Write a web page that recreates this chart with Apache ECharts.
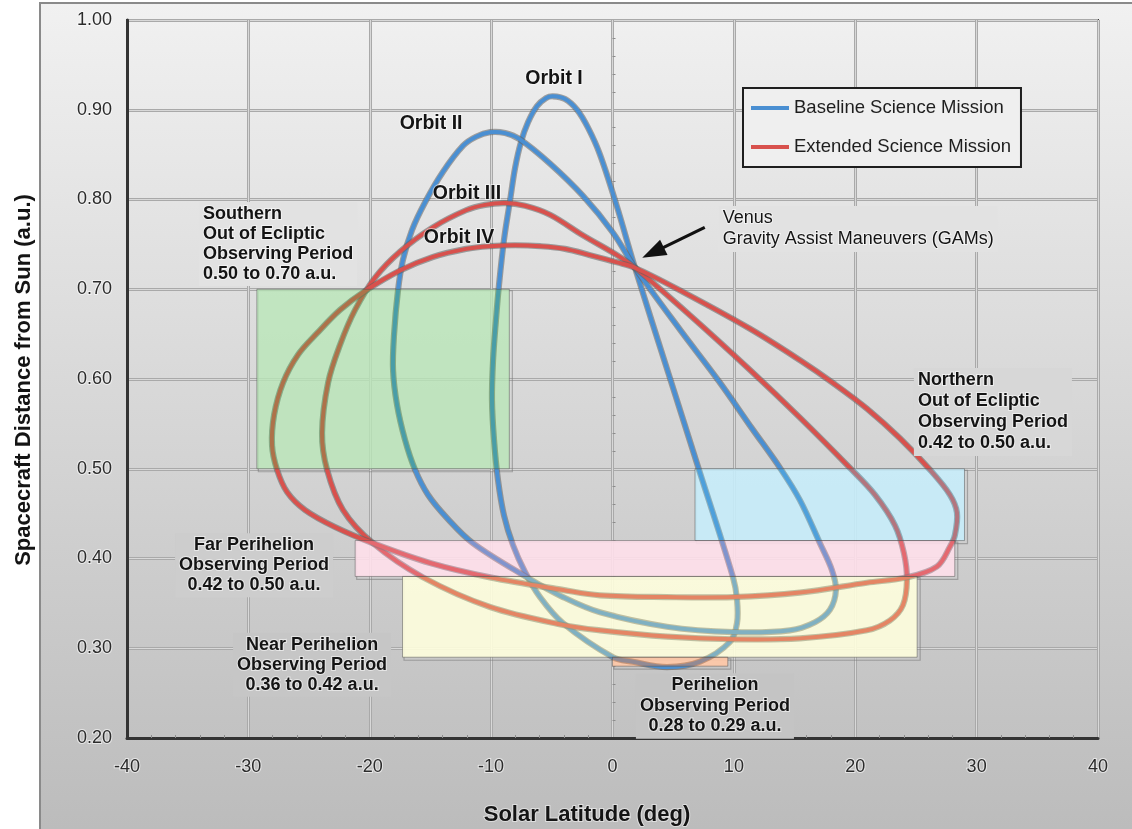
<!DOCTYPE html>
<html>
<head>
<meta charset="utf-8">
<script src="https://cdn.jsdelivr.net/npm/echarts@6/dist/echarts.min.js"></script>
<style>
  html, body { margin: 0; padding: 0; background: #ffffff; }
  #chart { width: 1132px; height: 829px; }
</style>
</head>
<body>
<div id="chart"></div>
<script>
// ---- axis ticks ----
const xTicks = [-40, -30, -20, -10, 0, 10, 20, 30, 40];
const yTicks = [0.20, 0.30, 0.40, 0.50, 0.60, 0.70, 0.80, 0.90, 1.00];

// ---- mission series ----
const missionNames = ['Baseline Science Mission', 'Extended Science Mission'];

// ---- orbit loops: [solar latitude (deg), distance from Sun (a.u.)], clockwise from the top ----
const orbitI = [
  [-4.90, 0.915], [-3.91, 0.912], [-2.92, 0.900], [-2.02, 0.880], [-1.03, 0.850],
  [0.37, 0.792], [1.85, 0.724], [4.57, 0.608], [6.96, 0.506], [9.93, 0.379],
  [10.26, 0.354], [10.26, 0.328], [9.68, 0.307], [7.21, 0.285], [4.49, 0.279],
  [1.69, 0.285], [0.04, 0.290], [-4.08, 0.328], [-5.97, 0.357], [-7.21, 0.385],
  [-8.20, 0.415], [-8.94, 0.448], [-9.43, 0.487], [-9.76, 0.532], [-9.93, 0.577],
  [-9.84, 0.621], [-9.60, 0.666], [-9.35, 0.705], [-8.94, 0.755], [-8.44, 0.799],
  [-8.03, 0.835], [-7.54, 0.864], [-6.96, 0.886], [-6.22, 0.904], [-5.48, 0.913]
];
const orbitII = [
  [-10.09, 0.875], [-8.85, 0.874], [-7.62, 0.867], [-5.15, 0.840], [-2.43, 0.804],
  [0.04, 0.763], [1.85, 0.724], [5.56, 0.655], [8.85, 0.596], [11.49, 0.545],
  [13.80, 0.501], [15.44, 0.465], [17.09, 0.417], [18.08, 0.387], [18.41, 0.365],
  [17.92, 0.343], [16.68, 0.329], [14.62, 0.320], [9.93, 0.318], [4.49, 0.324],
  [-1.03, 0.340], [-4.08, 0.357], [-7.04, 0.379], [-11.49, 0.417], [-13.63, 0.445],
  [-15.20, 0.471], [-16.27, 0.499], [-17.09, 0.532], [-17.75, 0.571], [-18.08, 0.610],
  [-18.00, 0.649], [-17.67, 0.699], [-17.26, 0.733], [-16.52, 0.766], [-15.44, 0.797],
  [-13.96, 0.831], [-12.31, 0.860], [-11.24, 0.870]
];
const orbitIII = [
  [-8.85, 0.796], [-7.21, 0.793], [-5.15, 0.783], [-2.43, 0.760], [0.37, 0.738],
  [1.85, 0.724], [6.38, 0.671], [11.33, 0.610], [15.44, 0.557], [19.56, 0.501],
  [21.62, 0.471], [23.27, 0.437], [24.01, 0.406], [24.26, 0.376], [23.93, 0.348],
  [22.86, 0.331], [20.96, 0.320], [15.44, 0.311], [9.93, 0.310], [4.49, 0.313],
  [-1.03, 0.320], [-4.08, 0.326], [-10.09, 0.346], [-15.61, 0.379], [-19.73, 0.417],
  [-22.20, 0.454], [-23.52, 0.499], [-23.93, 0.540], [-23.43, 0.596], [-22.45, 0.638],
  [-21.21, 0.677], [-19.56, 0.713], [-17.50, 0.742], [-14.79, 0.769], [-12.07, 0.788],
  [-10.50, 0.794]
];
const orbitIV = [
  [-10.09, 0.748], [-8.03, 0.749], [-5.97, 0.748], [-3.91, 0.745], [-1.85, 0.738],
  [0.37, 0.730], [1.85, 0.724], [5.81, 0.697], [11.33, 0.656], [15.44, 0.621],
  [18.33, 0.594], [20.96, 0.567], [23.68, 0.534], [26.15, 0.499], [27.80, 0.471],
  [28.38, 0.451], [28.21, 0.426], [27.80, 0.413], [26.73, 0.391], [24.26, 0.379],
  [20.96, 0.373], [15.44, 0.362], [9.93, 0.357], [4.49, 0.357], [-1.03, 0.359],
  [-4.08, 0.365], [-10.09, 0.379], [-15.03, 0.395], [-19.73, 0.417], [-22.86, 0.435],
  [-25.33, 0.454], [-26.81, 0.474], [-27.64, 0.499], [-28.05, 0.526], [-27.88, 0.560],
  [-27.14, 0.596], [-25.91, 0.627], [-24.34, 0.651], [-22.45, 0.677], [-20.39, 0.698],
  [-17.50, 0.721], [-14.79, 0.736], [-12.07, 0.745]
];
const baselineOrbits = [orbitI, orbitII];
const extendedOrbits = [orbitIII, orbitIV];

// ---- observing periods: latitude span and distance span ----
const periodNames = ['Southern', 'Northern', 'Far Perihelion', 'Near Perihelion', 'Perihelion'];
const periodLat = [[-29.3, -8.5], [6.8, 29.0], [-21.2, 28.2], [-17.3, 25.1], [0.0, 9.5]];
const periodDist = [[0.50, 0.70], [0.42, 0.50], [0.38, 0.42], [0.29, 0.38], [0.28, 0.29]];

// ---- Venus gravity assist pointer ----
const gamArrowTail = [7.6, 0.769];
const gamArrowTip = [2.45, 0.735];

// ---- styling ----
const FONT = '"Liberation Sans", Arial, Helvetica, sans-serif';
const BLUE = '#4a8fd2';
const RED = '#d8514d';
const HALO = 'rgba(95,95,95,0.55)';
// white underlay opacity and translucent tint laid over the orbit tracks
const periodUnder = [0.7, 0.85, 0.85, 0.85, 0.85];
const periodTint = [
  'rgba(72,192,69,0.3)',
  'rgba(88,202,242,0.3)',
  'rgba(255,162,196,0.3)',
  'rgba(255,255,157,0.3)',
  'rgba(255,130,55,0.4)'
];

// annotation text anchored in data space
const notes = [
  { text: 'Orbit I', at: [-4.82, 0.935], kind: 'orbit' },
  { text: 'Orbit II', at: [-14.95, 0.885], kind: 'orbit' },
  { text: 'Orbit III', at: [-11.99, 0.807], kind: 'orbit' },
  { text: 'Orbit IV', at: [-12.64, 0.757], kind: 'orbit' },
  { text: 'Southern\nOut of Ecliptic\nObserving Period\n0.50 to 0.70 a.u.', at: [-33.73, 0.795], kind: 'left', lh: 20 },
  { text: 'Northern\nOut of Ecliptic\nObserving Period\n0.42 to 0.50 a.u.', at: [25.16, 0.610], kind: 'left', lh: 21 },
  { text: 'Far Perihelion\nObserving Period\n0.42 to 0.50 a.u.', at: [-29.53, 0.426], kind: 'center', lh: 20 },
  { text: 'Near Perihelion\nObserving Period\n0.36 to 0.42 a.u.', at: [-24.75, 0.315], kind: 'center', lh: 20 },
  { text: 'Perihelion\nObserving Period\n0.28 to 0.29 a.u.', at: [8.44, 0.270], kind: 'center', lh: 20.5 },
  { text: 'Venus\nGravity Assist Maneuvers (GAMs)', at: [9.08, 0.7905], kind: 'plain', lh: 21 }
];

// panel shade at a given pixel row (same ramp as the panel gradient)
const PANEL_TOP = 3, PANEL_H = 840, SHADE_TOP = 241, SHADE_BOTTOM = 187;
function shadeAt(y) {
  const t = Math.min(1, Math.max(0, (y - PANEL_TOP) / PANEL_H));
  const g = Math.round(SHADE_TOP + (SHADE_BOTTOM - SHADE_TOP) * t);
  return 'rgb(' + g + ',' + g + ',' + g + ')';
}

function orbitRenderer(loops, color) {
  return function (params, api) {
    const pts = loops[params.dataIndex].map(function (p) { return api.coord(p); });
    return {
      type: 'group',
      children: [
        { type: 'polygon', shape: { points: pts, smooth: 0.35 },
          style: { fill: 'none', stroke: HALO, lineWidth: 6.2 } },
        { type: 'polygon', shape: { points: pts, smooth: 0.35 },
          style: { fill: 'none', stroke: color, lineWidth: 4 } }
      ]
    };
  };
}

function periodBox(api, i) {
  const a = api.coord([periodLat[i][0], periodDist[i][1]]);
  const b = api.coord([periodLat[i][1], periodDist[i][0]]);
  return { x: a[0], y: a[1], width: b[0] - a[0], height: b[1] - a[1] };
}

function noteRenderer(params, api) {
  const n = notes[params.dataIndex];
  const p = api.coord(n.at);
  const isOrbit = n.kind === 'orbit';
  const padX = 4, padY = 2;
  const style = {
    text: n.text,
    fontFamily: FONT,
    fontSize: isOrbit ? 19.5 : 18,
    fontWeight: n.kind === 'plain' ? 'normal' : 'bold',
    fill: '#141414',
    stroke: 'rgba(255,255,255,0.55)',
    lineWidth: 2,
    align: isOrbit || n.kind === 'center' ? 'center' : 'left',
    verticalAlign: isOrbit ? 'middle' : 'top'
  };
  let x = p[0], y = p[1];
  if (!isOrbit) {
    const lines = n.text.split('\n').length;
    style.lineHeight = n.lh;
    style.backgroundColor = shadeAt(p[1] + lines * n.lh / 2);
    style.padding = [padY, padX];
    y -= padY;
    if (style.align === 'left') x -= padX;
  }
  return { type: 'text', x: x, y: y, style: style };
}

function arrowRenderer(params, api) {
  const a = api.coord(gamArrowTail);
  const b = api.coord(gamArrowTip);
  const dx = b[0] - a[0], dy = b[1] - a[1];
  const len = Math.sqrt(dx * dx + dy * dy);
  const ux = dx / len, uy = dy / len;
  const headLen = 24, headHalf = 8.5;
  const bx = b[0] - ux * headLen, by = b[1] - uy * headLen;
  return {
    type: 'group',
    children: [
      { type: 'line', shape: { x1: a[0], y1: a[1], x2: bx + ux * 3, y2: by + uy * 3 },
        style: { stroke: '#111', lineWidth: 3.2 } },
      { type: 'polygon',
        shape: { points: [[b[0], b[1]], [bx - uy * headHalf, by + ux * headHalf], [bx + uy * headHalf, by - ux * headHalf]] },
        style: { fill: '#111' } }
    ]
  };
}

const tickLabelStyle = {
  fontFamily: FONT, fontSize: 18, color: '#2b2b2b',
  textBorderColor: 'rgba(255,255,255,0.6)', textBorderWidth: 2
};

const chart = echarts.init(document.getElementById('chart'), null, { renderer: 'canvas' });

const option = {
  animation: false,
  backgroundColor: '#ffffff',
  textStyle: { fontFamily: FONT },
  graphic: [
    {
      type: 'rect', z: -10, silent: true,
      shape: { x: 40, y: PANEL_TOP, width: 1110, height: PANEL_H },
      style: {
        fill: new echarts.graphic.LinearGradient(0, 0, 0, 1, [
          { offset: 0, color: 'rgb(241,241,241)' },
          { offset: 1, color: 'rgb(187,187,187)' }
        ]),
        stroke: '#8a8a8a', lineWidth: 2
      }
    },
    {
      type: 'text', x: 587, y: 815, silent: true,
      style: { text: 'Solar Latitude (deg)', fontFamily: FONT, fontSize: 22, fontWeight: 'bold',
               fill: '#141414', align: 'center', verticalAlign: 'middle',
               stroke: 'rgba(255,255,255,0.5)', lineWidth: 2 }
    },
    {
      type: 'text', x: 24, y: 380, rotation: Math.PI / 2, silent: true,
      style: { text: 'Spacecraft Distance from Sun (a.u.)', fontFamily: FONT, fontSize: 22, fontWeight: 'bold',
               fill: '#141414', align: 'center', verticalAlign: 'middle',
               stroke: 'rgba(255,255,255,0.5)', lineWidth: 2 }
    }
  ],
  grid: {
    left: 127, right: 34, top: 20, bottom: 91,
    show: true, borderColor: '#3a3a3a', borderWidth: 2, backgroundColor: 'transparent',
    outerBoundsMode: 'none'
  },
  legend: {
    data: missionNames,
    orient: 'vertical',
    left: 743, top: 88,
    padding: [10, 10, 10, 8],
    itemGap: 19,
    itemWidth: 38, itemHeight: 4,
    icon: 'rect',
    selectedMode: false,
    backgroundColor: '#efefef',
    borderColor: '#1e1e1e', borderWidth: 2,
    textStyle: { fontFamily: FONT, fontSize: 18.5, color: '#1e1e1e', lineHeight: 20 }
  },
  xAxis: [
    {
      type: 'value', min: xTicks[0], max: xTicks[xTicks.length - 1], interval: 10,
      axisLine: { show: true, onZero: false, lineStyle: { color: '#333', width: 3 } },
      axisTick: { show: false, inside: true },
      minorTick: { show: true, splitNumber: 5, length: 3, lineStyle: { color: '#8c8c8c', width: 1 } },
      axisLabel: Object.assign({ margin: 20 }, tickLabelStyle),
      splitLine: { show: true, lineStyle: { color: '#a9a9a9', width: 3 } }
    },
    {
      type: 'value', min: xTicks[0], max: xTicks[xTicks.length - 1], interval: 10, position: 'top',
      axisLine: { show: false, onZero: false }, axisTick: { show: false }, axisLabel: { show: false },
      splitLine: { show: true, lineStyle: { color: 'rgba(255,255,255,0.55)', width: 1 } }
    }
  ],
  yAxis: [
    {
      type: 'value', min: yTicks[0], max: yTicks[yTicks.length - 1], interval: 0.1,
      axisLine: { show: true, onZero: false, lineStyle: { color: '#333', width: 3 } },
      axisTick: { show: false },
      axisLabel: Object.assign({ margin: 15, formatter: function (v) { return v.toFixed(2); } }, tickLabelStyle),
      splitLine: { show: true, lineStyle: { color: '#a9a9a9', width: 3 } }
    },
    {
      // zero-latitude line carrying the fine distance ticks
      type: 'value', min: yTicks[0], max: yTicks[yTicks.length - 1], interval: 0.1, position: 'right',
      axisLine: { show: false, onZero: true },
      axisTick: { show: false },
      minorTick: { show: true, splitNumber: 5, length: 3, lineStyle: { color: '#8c8c8c', width: 1 } },
      axisLabel: { show: false },
      splitLine: { show: true, lineStyle: { color: 'rgba(255,255,255,0.55)', width: 1 } }
    }
  ],
  series: [
    {
      name: 'period underlay', type: 'custom', z: 1, silent: true,
      data: periodLat.map(function (s, i) { return [s[0], periodDist[i][0]]; }),
      renderItem: function (params, api) {
        const i = params.dataIndex;
        const box = periodBox(api, i);
        return {
          type: 'group',
          children: [
            { type: 'rect', shape: { x: box.x + 1.5, y: box.y + 1.5, width: box.width + 1.5, height: box.height + 1.5 },
              style: { fill: 'none', stroke: 'rgba(120,120,120,0.55)', lineWidth: 1.2 } },
            { type: 'rect', shape: box, style: { fill: 'rgba(255,255,255,' + periodUnder[i] + ')' } }
          ]
        };
      }
    },
    {
      name: missionNames[0], type: 'custom', z: 2, silent: true,
      itemStyle: { color: BLUE },
      data: baselineOrbits.map(function (o) { return o[0]; }),
      renderItem: orbitRenderer(baselineOrbits, BLUE)
    },
    {
      name: missionNames[1], type: 'custom', z: 2, silent: true,
      itemStyle: { color: RED },
      data: extendedOrbits.map(function (o) { return o[0]; }),
      renderItem: orbitRenderer(extendedOrbits, RED)
    },
    {
      name: 'period tint', type: 'custom', z: 3, silent: true,
      data: periodLat.map(function (s, i) { return [s[0], periodDist[i][0]]; }),
      renderItem: function (params, api) {
        const i = params.dataIndex;
        return { type: 'rect', shape: periodBox(api, i),
                 style: { fill: periodTint[i], stroke: 'rgba(80,80,80,0.5)', lineWidth: 1 } };
      }
    },
    {
      name: 'GAM pointer', type: 'custom', z: 5, silent: true,
      data: [gamArrowTip],
      renderItem: arrowRenderer
    },
    {
      name: 'notes', type: 'custom', z: 6, silent: true,
      data: notes.map(function (n) { return n.at; }),
      renderItem: noteRenderer
    }
  ]
};

chart.setOption(option);
</script>
</body>
</html>
